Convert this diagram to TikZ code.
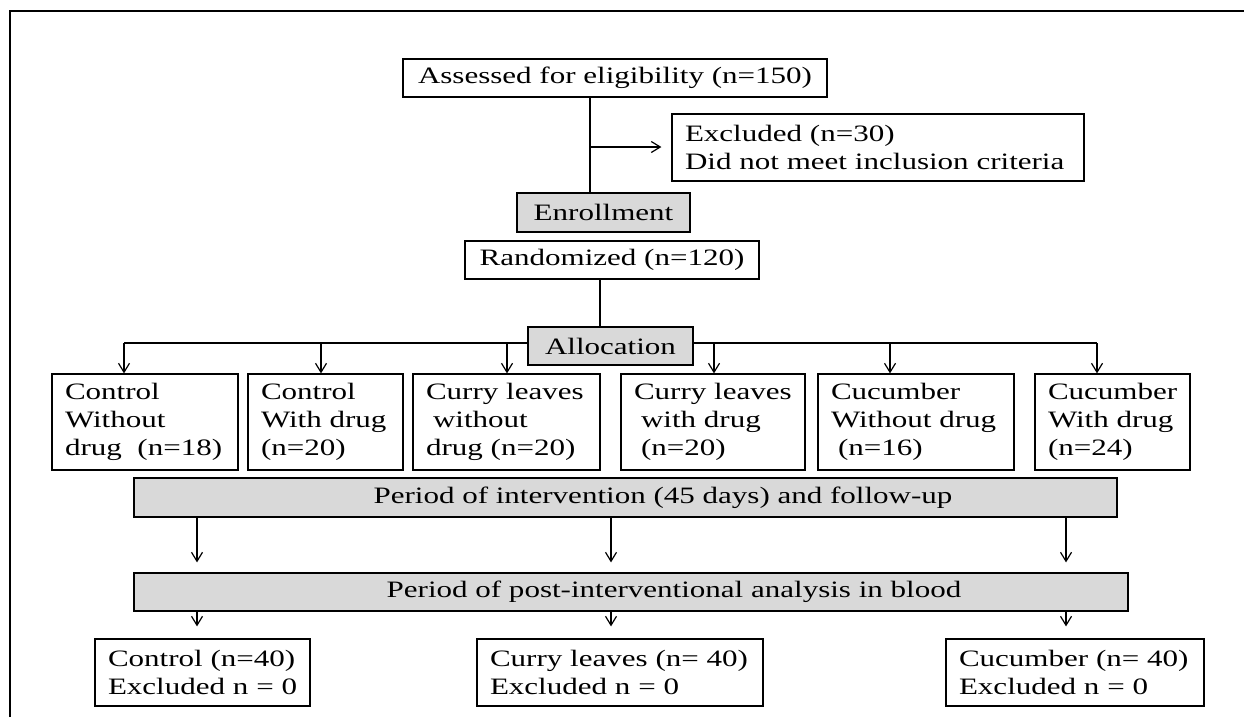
\documentclass[tikz,border=0pt]{standalone}
\usepackage{fontspec}
\setmainfont{Liberation Serif}[FakeStretch=1.32]
\usetikzlibrary{arrows.meta}

\begin{document}
\begin{tikzpicture}[x=1pt, y=-1pt,
    box/.style={draw, line width=1.2pt, inner xsep=13pt, inner ysep=0pt,
      font=\fontsize{23.5}{28.3}\selectfont, align=left},
    shaded/.style={box, fill=black!15},
    link/.style={line width=1.2pt},
    arr/.style={link, -{Straight Barb[length=9pt,width=11pt]}}]
  \useasboundingbox (0,0) rectangle (1244,717);
  % frame
  \draw[line width=2.4pt, line join=miter] (10,717) -- (10,11) -- (1244,11);

  \coordinate (split) at (590,147);
  \coordinate (rnd) at (600,300);
  \coordinate (d1) at (124,343);
  \coordinate (d2) at (321,343);
  \coordinate (d3) at (507,343);
  \coordinate (d4) at (714,343);
  \coordinate (d5) at (890,343);
  \coordinate (d6) at (1097,343);
  \coordinate (k1) at (197,560);
  \coordinate (k2) at (611,560);
  \coordinate (k3) at (1066,560);
  % allocation bar, behind the box
  \draw[link] (d1) -- (d6);

  \node[box, minimum width=424pt, minimum height=38pt] (assessed) at (615,78)
    {Assessed for eligibility (n=150)};
  \node[box, text width=386pt, minimum height=67pt] (excluded) at (878,147.5)
    {Excluded (n=30)\\Did not meet inclusion criteria};
  \node[shaded, minimum width=173pt, minimum height=39pt] (enroll) at (603.5,212.5) {Enrollment};
  \node[box, minimum width=294pt, minimum height=38pt] (random) at (612,260) {Randomized (n=120)};
  \node[shaded, minimum width=165pt, minimum height=38pt] (alloc) at (610.5,346) {Allocation};

  \node[box, text width=160pt, minimum height=96pt] (g1) at (145,422)
    {Control\\Without\\drug~~(n=18)};
  \node[box, text width=129pt, minimum height=96pt] (g2) at (325.5,422)
    {Control\\With~drug\\(n=20)};
  \node[box, text width=161pt, minimum height=96pt] (g3) at (506.5,422)
    {Curry~leaves\\\hspace*{7pt}without\\drug~(n=20)};
  \node[box, text width=158pt, minimum height=96pt] (g4) at (713,422)
    {Curry~leaves\\\hspace*{7pt}with~drug\\\hspace*{7pt}(n=20)};
  \node[box, text width=170pt, minimum height=96pt] (g5) at (916,422)
    {Cucumber\\Without~drug\\\hspace*{7pt}(n=16)};
  \node[box, text width=129pt, minimum height=96pt] (g6) at (1112.5,422)
    {Cucumber\\With~drug\\(n=24)};

  \node[shaded, minimum width=983pt, minimum height=39pt] (interv) at (625.5,497.5)
    {\hspace*{75pt}Period of intervention (45 days) and follow-up};
  \node[shaded, minimum width=994pt, minimum height=38pt] (post) at (631,592)
    {\hspace*{86pt}Period of post-interventional analysis in blood};

  \node[box, text width=189pt, minimum height=67pt] (f1) at (202.5,672.5)
    {Control~(n=40)\\Excluded~n~=~0};
  \node[box, text width=260pt, minimum height=67pt] (f2) at (620,672.5)
    {Curry~leaves~(n=~40)\\Excluded~n~=~0};
  \node[box, text width=232pt, minimum height=67pt] (f3) at (1075,672.5)
    {Cucumber~(n=~40)\\Excluded~n~=~0};

  \draw[link] (assessed.south -| split) -- (enroll.north -| split);
  \draw[arr, shorten >=10pt] (split) -- (split -| excluded.west);
  \draw[link] (random.south -| rnd) -- (alloc.north -| rnd);
  \foreach \i in {1,...,6}
    \draw[arr] (d\i) -- (d\i |- g\i.north);
  \foreach \i in {1,2,3} {
    \draw[arr, shorten >=10pt] (interv.south -| k\i) -- (post.north -| k\i);
    \draw[arr, shorten >=12pt] (post.south -| k\i) -- (f\i.north -| k\i);
  }
\end{tikzpicture}
\end{document}
